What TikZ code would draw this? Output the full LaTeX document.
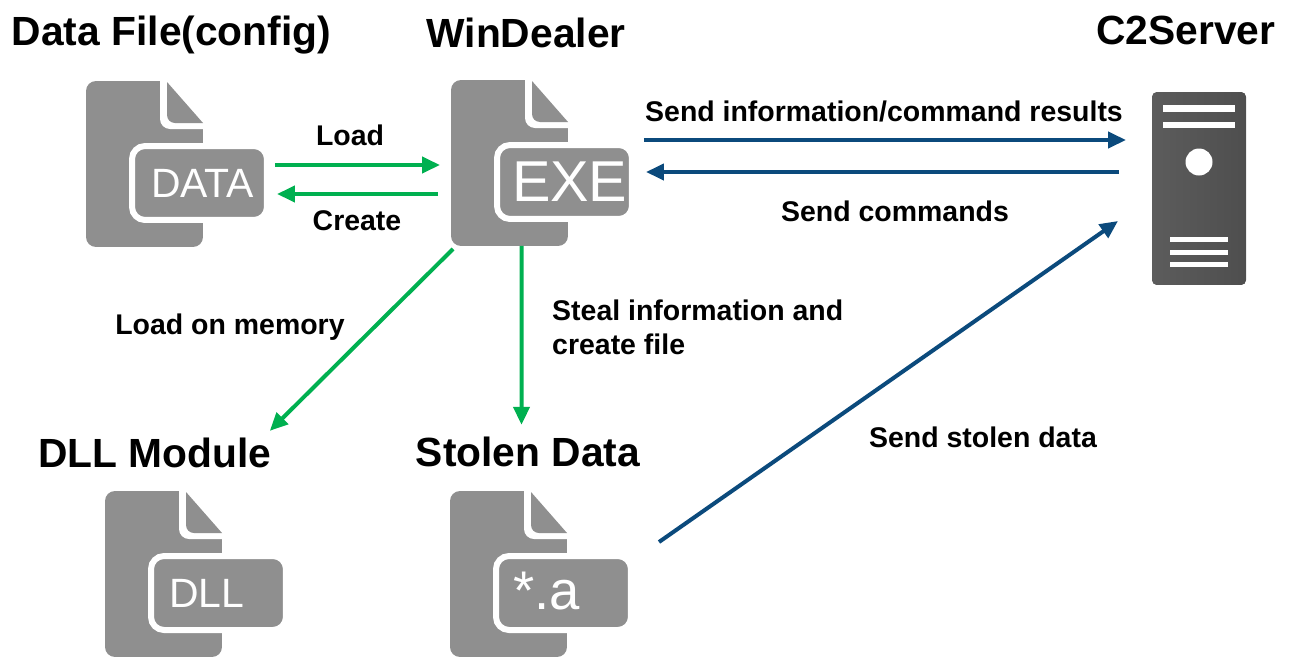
\documentclass[tikz,border=0pt]{standalone}
\usepackage{fontspec}
\setmainfont{Liberation Sans}
\usetikzlibrary{arrows.meta}
\definecolor{filegrey}{HTML}{8F8F8F}
\definecolor{servergrey}{HTML}{5C5C5C}
\definecolor{arrowgreen}{HTML}{00B050}
\definecolor{arrowblue}{HTML}{0B4A7C}
\tikzset{
  filebody/.style={fill=filegrey,rounded corners=0.2cm,minimum width=2.34cm,minimum height=3.32cm,inner sep=0pt,outer sep=0pt},
  filetag/.style={fill=filegrey,draw=white,line width=0.12cm,rounded corners=0.26cm,minimum height=1.48cm,text width=2.7cm,inner sep=0pt,outer sep=0pt,align=left,text=white},
  title/.style={font=\fontsize{23.2}{27}\selectfont\bfseries},
  caption/.style={font=\fontsize{16.2}{19.4}\selectfont\bfseries,align=left},
  greenline/.style={-{Triangle[length=0.36cm,width=0.32cm]},line width=0.08cm,arrowgreen},
  blueline/.style={-{Triangle[length=0.36cm,width=0.32cm]},line width=0.08cm,arrowblue},
  serverbar/.style={fill=white}
}
\newcommand{\fileicon}[6]{
  \begin{scope}[shift={(#2,#3)}]
    \node [filebody] (#1) at (58.5,83) {};
    \fill [white] (74,-1) [rounded corners=0.2cm] -- (74,48) [sharp corners] -- (119,48) -- (119,-1) -- cycle;
    \fill [filegrey] (81,1) [rounded corners=0.16cm] -- (81,42) [sharp corners] -- (117,42) -- cycle;
    \node [filetag] (#1tag) at (113.5,102) {\hspace*{#4}\fontsize{#5}{#5}\selectfont #6};
  \end{scope}
}
\begin{document}
\begin{tikzpicture}[x=0.02cm,y=-0.02cm]
        \clip (0,0) rectangle (1290,656);

        \fileicon{data}{86}{81}{0.38cm}{23.3}{DATA}
        \node [title] (datatitle) at (171.5,35) {Data File(config)};

        \fileicon{exe}{451}{80}{0.3cm}{32.8}{EXE}
        \node [title] (exetitle) at (526,33) {WinDealer};

        \fileicon{dll}{105}{491}{0.36cm}{23.3}{DLL}
        \node [title] (dlltitle) at (155,453) {DLL Module};

        \fileicon{stolen}{450}{491}{0.34cm}{31}{\raisebox{0.08cm}{*.a}}
        \node [title] (stolentitle) at (528,452) {Stolen Data};

        \node [fill=servergrey,left color=servergrey,right color=servergrey!85!black,rounded corners=0.1cm,minimum width=1.88cm,minimum height=3.86cm,inner sep=0pt,outer sep=0pt] (server) at (1199,188.5) {};
        \fill [serverbar] (1163,105) rectangle (1235,112);
        \fill [serverbar] (1163,122) rectangle (1235,128);
        \fill [serverbar] (1199,162) circle (13.5);
        \fill [serverbar] (1170,237) rectangle (1228,242);
        \fill [serverbar] (1170,250) rectangle (1228,255);
        \fill [serverbar] (1170,262) rectangle (1228,267);
        \node [title] (servertitle) at (1186,30) {C2Server};

        \draw [greenline] ([shift={(8,-18)}]datatag.east) -- ([shift={(-11,2)}]exe.west);
        \node [caption] (loadtext) at (350,135) {Load};

        \draw [greenline] ([shift={(-13,31)}]exe.west) -- ([shift={(10,11)}]datatag.east);
        \node [caption] (createtext) at (357,221) {Create};

        \draw [blueline] ([shift={(12,-42)}]exetag.east) -- ([shift={(-26,-48.5)}]server.west);
        \node [caption] (sendtext) at (884,111) {Send information/command results};

        \draw [blueline] ([shift={(-33,-16.5)}]server.west) -- ([shift={(14,-10)}]exetag.east);
        \node [caption] (commandtext) at (895,211) {Send commands};

        \draw [greenline] ([shift={(2,3)}]exe.south west) -- ([shift={(-8,-1)}]dlltitle.north east);
        \node [caption] (memorytext) at (230,327) {Load on memory};

        \draw [greenline] ([xshift=0.24cm]exe.south) -- ([shift={(-6.5,-6)}]stolentitle.north);
        \node [caption,anchor=west] (stealtext) at (546,327) {Steal information and\\create file};

        \draw [blueline] ([shift={(28,-14)}]stolentag.north east) -- ([shift={(-34,32.5)}]server.west);
        \node [caption] (stolentext) at (983,437) {Send stolen data};
      \end{tikzpicture}
\end{document}
